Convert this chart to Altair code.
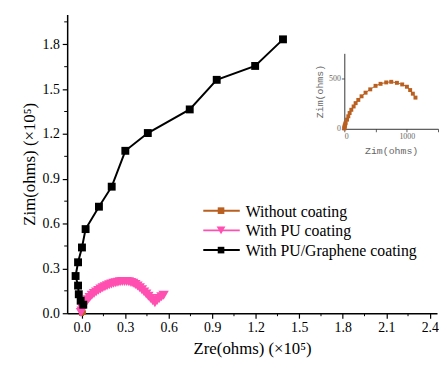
import altair as alt
import pandas as pd

# ---------------- data (main chart, units of 1e5 ohms) ----------------
series_names = ["Without coating", "With PU coating", "With PU/Graphene coating"]
series_colors = ["#b95f1f", "#ff4fb0", "#000000"]
series_shapes = ["square", "triangle-down", "square"]
series_sizes = [20, 110, 64]

black_zre = [0.011, -0.007, -0.020, -0.025, -0.042, -0.025, 0.002, 0.027, 0.119, 0.207,
             0.301, 0.456, 0.745, 0.931, 1.196, 1.388]
black_zim = [0.057, 0.084, 0.127, 0.185, 0.249, 0.341, 0.440, 0.563, 0.713, 0.847,
             1.087, 1.206, 1.364, 1.562, 1.655, 1.833]

pink_zre = [-0.005, 0.000, 0.005, 0.012, 0.020, 0.030, 0.042, 0.055, 0.070, 0.085,
            0.100, 0.115, 0.130, 0.145, 0.160, 0.175, 0.190, 0.205, 0.220, 0.235,
            0.250, 0.265, 0.280, 0.295, 0.310, 0.325, 0.340, 0.355, 0.370, 0.385,
            0.400, 0.415, 0.430, 0.445, 0.460, 0.475, 0.490, 0.505, 0.520, 0.535,
            0.550, 0.565]
pink_zim = [0.005, 0.015, 0.030, 0.045, 0.060, 0.075, 0.090, 0.105, 0.120, 0.132,
            0.143, 0.153, 0.162, 0.170, 0.177, 0.184, 0.190, 0.195, 0.200, 0.204,
            0.207, 0.210, 0.212, 0.213, 0.212, 0.210, 0.206, 0.200, 0.192, 0.182,
            0.170, 0.157, 0.143, 0.128, 0.113, 0.098, 0.083, 0.070, 0.085, 0.098,
            0.110, 0.120]

# uncoated sample, in ohms (shown in inset)
orange_zre = [0, 3, 5, 8, 14, 21, 43, 64, 85, 112, 149, 181, 224, 276, 340, 415,
              500, 580, 671, 751, 842, 927, 1002, 1054, 1097, 1139]
orange_zim = [3, 12, 22, 32, 45, 59, 91, 124, 157, 189, 222, 255, 287, 323, 359, 392,
              427, 447, 461, 467, 457, 441, 418, 385, 349, 310]

x_ticks = [0, 0.3, 0.6, 0.9, 1.2, 1.5, 1.8, 2.1, 2.4]
y_ticks = [0, 0.3, 0.6, 0.9, 1.2, 1.5, 1.8]
x_minor = [0.15, 0.45, 0.75, 1.05, 1.35, 1.65, 1.95, 2.25]
y_minor = [0.15, 0.45, 0.75, 1.05, 1.35, 1.65, 1.95]

inset_x_ticks = [0, 500, 1000, 1500]
inset_y_ticks = [0, 500]

# ---------------- tables ----------------
rows = []
for k, (name, xs, ys) in enumerate([
    (series_names[0], [v / 1e5 for v in orange_zre], [v / 1e5 for v in orange_zim]),
    (series_names[1], pink_zre, pink_zim),
    (series_names[2], black_zre, black_zim),
]):
    for i, (a, b) in enumerate(zip(xs, ys)):
        rows.append({"series": name, "idx": i, "zre": a, "zim": b, "msize": series_sizes[k]})
df = pd.DataFrame(rows)
inset_df = pd.DataFrame({"ix": orange_zre, "iy": orange_zim, "idx": range(len(orange_zre))})

W, H = 375, 303
SERIF = "Times New Roman, Liberation Serif, serif"
MONO = "Courier New, Liberation Mono, monospace"

color_scale = alt.Scale(domain=series_names, range=series_colors)
shape_scale = alt.Scale(domain=series_names, range=series_shapes)

x_axis = alt.Axis(values=x_ticks, format=".1f", title="Zre(ohms) (×10⁵)", titlePadding=6)
y_axis = alt.Axis(values=y_ticks, format=".1f", title="Zim(ohms) (×10⁵)", titlePadding=4)
x_enc = alt.X("zre:Q", scale=alt.Scale(domain=[-0.1, 2.45], nice=False, zero=False), axis=x_axis)
y_enc = alt.Y("zim:Q", scale=alt.Scale(domain=[0, 2.0], nice=False, zero=False), axis=y_axis)

lines = alt.Chart(df).mark_line(strokeWidth=2).encode(
    x=x_enc, y=y_enc,
    color=alt.Color("series:N", scale=color_scale, legend=None),
    detail="series:N", order="idx:Q")
points = alt.Chart(df).mark_point(filled=True, opacity=1).encode(
    x=x_enc, y=y_enc,
    color=alt.Color("series:N", scale=color_scale, legend=None),
    shape=alt.Shape("series:N", scale=shape_scale, legend=None),
    size=alt.Size("msize:Q", scale=None, legend=None))
minor_x = alt.Chart(pd.DataFrame({"zre": x_minor})).mark_rule(color="black", strokeWidth=1).encode(
    x=x_enc, y=alt.value(H), y2=alt.value(H + 3))
minor_y = alt.Chart(pd.DataFrame({"zim": y_minor})).mark_rule(color="black", strokeWidth=1).encode(
    y=y_enc, x=alt.value(0), x2=alt.value(-3))

main = alt.layer(lines, minor_x, minor_y, points)

# ---------------- inset ----------------
ix_enc = alt.X("ix:Q",
               scale=alt.Scale(domain=[0, 1500], range=[281, 376], nice=False, zero=False),
               axis=alt.Axis(orient="bottom", offset=-(H - 116), values=inset_x_ticks, format="d",
                             labelExpr="datum.value == 500 || datum.value == 1500 ? '' : datum.label",
                             title="Zim(ohms)", titleFont=MONO, titleFontSize=10, titleColor="#666666",
                             titleFontWeight="normal", titlePadding=5,
                             labelFont=SERIF, labelFontSize=8, labelColor="#666666", labelPadding=1,
                             tickSize=3, tickWidth=0.8, tickColor="#333333",
                             domainWidth=1, domainColor="#333333"))
iy_enc = alt.Y("iy:Q",
               scale=alt.Scale(domain=[0, 750], range=[116, 39.5], nice=False, zero=False),
               axis=alt.Axis(orient="left", offset=-281, values=inset_y_ticks, format="d",
                             title="Zim(ohms)", titleFont=MONO, titleFontSize=10, titleColor="#666666",
                             titleFontWeight="normal", titlePadding=4,
                             labelFont=SERIF, labelFontSize=8, labelColor="#666666", labelPadding=1,
                             tickSize=3, tickWidth=0.8, tickColor="#333333",
                             domainWidth=1, domainColor="#333333"))
inset = alt.layer(
    alt.Chart(inset_df).mark_line(color=series_colors[0], strokeWidth=1).encode(x=ix_enc, y=iy_enc, order="idx:Q"),
    alt.Chart(inset_df).mark_point(shape="square", filled=True, opacity=1, size=16,
                                   color=series_colors[0]).encode(x=ix_enc, y=iy_enc),
)

# ---------------- legend ----------------
leg_layers = []
for i, (name, col, shp) in enumerate(zip(series_names, series_colors, series_shapes)):
    yy = 199 + 20 * i
    d = pd.DataFrame({"label": [name]})
    leg_layers.append(alt.Chart(d).mark_rule(color=col, strokeWidth=2).encode(
        x=alt.value(138), x2=alt.value(175), y=alt.value(yy)))
    leg_layers.append(alt.Chart(d).mark_point(shape=shp, filled=True, opacity=1, color=col,
                                              size=80 if shp == "triangle-down" else 45).encode(
        x=alt.value(156), y=alt.value(yy)))
    leg_layers.append(alt.Chart(d).mark_text(align="left", baseline="middle", font=SERIF,
                                             fontSize=16, color="black").encode(
        x=alt.value(181), y=alt.value(yy + 1), text="label:N"))

chart = alt.layer(main, inset, *leg_layers).resolve_scale(
    x="independent", y="independent"
).properties(
    width=W, height=H,
    padding={"left": 12, "top": 4, "right": 0, "bottom": 5},
).configure_view(strokeWidth=0).configure_axis(
    grid=False, domainColor="black", domainWidth=1.5, tickColor="black", tickWidth=1.2,
    tickSize=5, labelFont=SERIF, labelFontSize=14, labelColor="black", labelPadding=3,
    titleFont=SERIF, titleFontSize=17, titleFontWeight="normal", titleColor="black",
)

chart.save("out.html", embed_options={"renderer": "svg", "actions": False})
